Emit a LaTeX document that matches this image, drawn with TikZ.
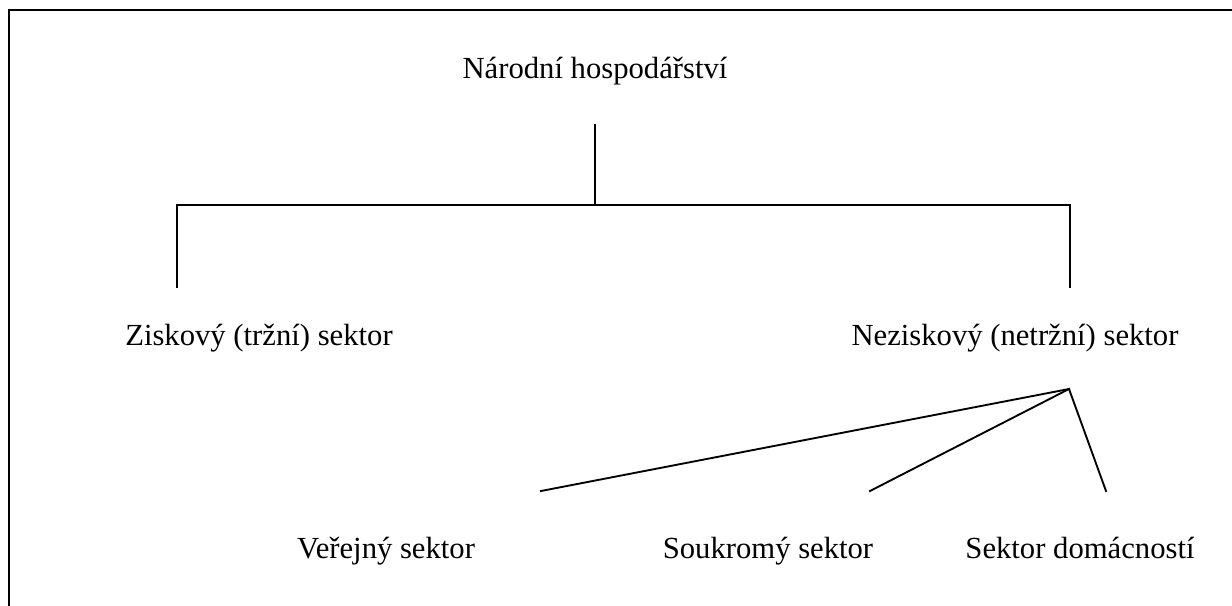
\documentclass[tikz,border=0pt]{standalone}
\usepackage{fontspec}
\setmainfont{Liberation Serif}
\begin{document}
\begin{tikzpicture}[x=0.75pt,y=-0.75pt,
  lbl/.style={inner sep=0pt,anchor=base,font=\fontsize{23}{27}\selectfont},
  conn/.style={line width=1.4pt,line cap=rect},
  frame/.style={line width=1.6pt}]
\useasboundingbox (0,0) rectangle (1232,606);
% frame (continues beyond the visible area)
\draw[frame] (9,620) -- (9,10) -- (1245,10);
% labels
\node[lbl] (nh) at (595,79) {Národní hospodářství};
\node[lbl] (zs) at (259,345) {Ziskový (tržní) sektor};
\node[lbl] (ns) at (1015,345) {Neziskový (netržní) sektor};
\node[lbl] (vs) at (386,558) {Veřejný sektor};
\node[lbl] (ss) at (768,558) {Soukromý sektor};
\node[lbl] (sd) at (1080,558) {Sektor domácností};
% connector points
\coordinate (top) at (595,125);
\coordinate (mid) at (595,205);
\coordinate (hl) at (177,205);
\coordinate (hr) at (1070,205);
\coordinate (zl) at (177,287);
\coordinate (nr) at (1070,287);
\coordinate (apex) at (1069,389);
\coordinate (ve) at (541,491);
\coordinate (so) at (870,491);
\coordinate (do) at (1106,491);
% connectors
\draw[conn] (top) -- (mid);
\draw[conn] (zl) -- (hl) -- (hr) -- (nr);
\draw[conn] (apex) -- (ve);
\draw[conn] (apex) -- (so);
\draw[conn] (apex) -- (do);
\end{tikzpicture}
\end{document}
